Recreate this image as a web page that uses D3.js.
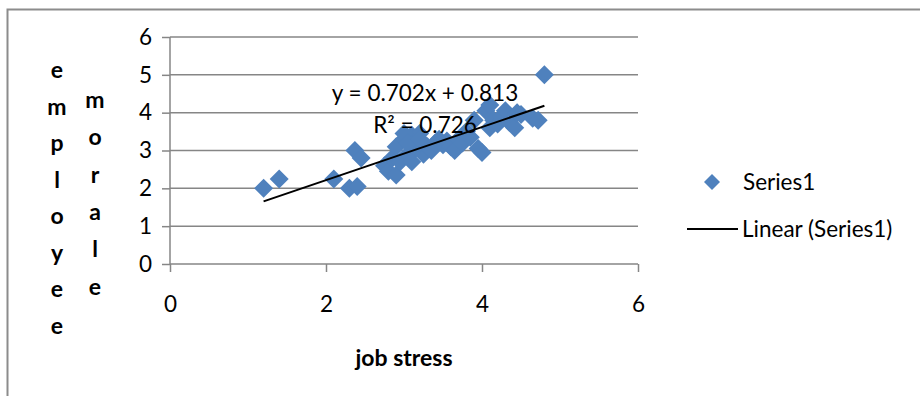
<!DOCTYPE html>
<html>
<head>
<meta charset="utf-8">
<script src="https://cdn.jsdelivr.net/npm/d3@7"></script>
<style>
  body { margin: 0; background: #fff; }
  svg text { font-family: Lato, "Open Sans", sans-serif; fill: #000; }
  .title { font-weight: bold; font-size: 23px; }
</style>
</head>
<body>
<div id="chart"></div>
<script>
// job stress vs employee morale
const jobStress = [1.2, 1.4, 2.1, 2.3, 2.4, 2.37, 2.45,
  2.75, 2.8, 2.9, 2.85, 2.95, 2.9, 3.0, 3.05, 3.1, 3.1, 3.15, 3.2, 3.25, 3.2, 3.3, 3.35,
  3.4, 3.45, 3.5, 3.55, 3.6, 3.65, 3.7, 3.75, 3.8, 3.85, 3.9, 3.95, 4.0, 4.05, 4.1, 4.1,
  4.15, 4.2, 4.25, 4.3, 4.35, 4.42, 4.45, 4.5, 4.65, 4.72, 4.8, 3.0, 3.05, 3.2];
const morale = [2.0, 2.25, 2.25, 2.0, 2.05, 3.0, 2.8,
  2.6, 2.45, 2.35, 2.8, 2.7, 3.1, 3.3, 2.9, 2.7, 3.4, 3.05, 3.45, 2.9, 3.2, 3.1, 3.0,
  3.2, 3.3, 3.15, 3.25, 3.1, 3.0, 3.3, 3.2, 3.5, 3.35, 3.8, 3.05, 2.95, 4.05, 4.2, 3.6,
  3.8, 3.7, 3.9, 4.05, 3.75, 3.6, 4.0, 3.95, 3.85, 3.8, 5.0, 3.45, 3.2, 3.3];
const xTicks = [0, 2, 4, 6];
const yTicks = [0, 1, 2, 3, 4, 5, 6];
const slope = 0.702, intercept = 0.813;
const eqLabel = "y = 0.702x + 0.813";
const r2Label = "R² = 0.726";
const seriesName = "Series1";
const trendName = "Linear (Series1)";

function draw() {
  let width = 920, height = 396;
  let left = 170, right = 638, top = 37, bottom = 264;
  let blue = "#4F81BD", grid = "#868686";
  let fs = 22.5;

  let svg = d3.select("#chart").append("svg")
    .attr("width", width)
    .attr("height", height);

  // outer border (chart area frame)
  svg.append("rect")
    .attr("x", 7.5).attr("y", 9.5)
    .attr("width", 940).attr("height", 420)
    .attr("fill", "none").attr("stroke", "#8c8c8c").attr("stroke-width", 2);

  let x = d3.scaleLinear().domain([0, 6]).range([left, right]);
  let y = d3.scaleLinear().domain([0, 6]).range([bottom, top]);

  // gridlines
  svg.append("g").selectAll("line")
    .data(yTicks.filter(d => d > 0))
    .enter().append("line")
    .attr("x1", left).attr("x2", right)
    .attr("y1", d => y(d)).attr("y2", d => y(d))
    .attr("stroke", grid).attr("stroke-width", 1.5);

  let yAxis = d3.axisLeft(y).tickValues(yTicks).tickSize(8).tickPadding(10).tickFormat(d3.format("d"));
  let xAxis = d3.axisBottom(x).tickValues(xTicks).tickSize(8).tickPadding(24).tickFormat(d3.format("d"));

  let gy = svg.append("g").attr("class", "axis")
    .attr("transform", `translate(${left},0)`).call(yAxis);
  let gx = svg.append("g").attr("class", "axis")
    .attr("transform", `translate(0,${bottom})`).call(xAxis);
  for (let g of [gx, gy]) {
    g.select(".domain").attr("stroke", grid).attr("stroke-width", 1.5);
    g.selectAll(".tick line").attr("stroke", grid).attr("stroke-width", 1.5);
    g.selectAll("text").attr("font-family", "Lato, 'Open Sans', sans-serif").attr("font-size", fs).attr("fill", "#000");
  }
  gx.select(".domain").attr("d", `M${left},0H${right}`);
  gy.select(".domain").attr("d", `M0,${bottom}V${top}`);

  // points
  let diamond = "M0,-9.5L9.5,0L0,9.5L-9.5,0Z";
  svg.append("g").selectAll("path")
    .data(jobStress.map((d, i) => [d, morale[i]]))
    .enter().append("path")
    .attr("d", diamond)
    .attr("transform", d => `translate(${x(d[0])},${y(d[1])})`)
    .attr("fill", blue);

  // trendline
  let x0 = d3.min(jobStress), x1 = d3.max(jobStress);
  svg.append("line")
    .attr("x1", x(x0)).attr("y1", y(slope * x0 + intercept))
    .attr("x2", x(x1)).attr("y2", y(slope * x1 + intercept))
    .attr("stroke", "#000").attr("stroke-width", 2);

  svg.append("text").attr("x", 425).attr("y", 101).attr("text-anchor", "middle")
    .attr("font-size", fs).text(eqLabel);
  svg.append("text").attr("x", 425).attr("y", 133).attr("text-anchor", "middle")
    .attr("font-size", fs).text(r2Label);

  // axis titles
  svg.append("text").attr("class", "title")
    .attr("x", 404).attr("y", 366).attr("text-anchor", "middle").text("job stress");

  let word1 = "employee".split(""), word2 = "morale".split("");
  svg.append("g").selectAll("text").data(word1).enter().append("text")
    .attr("class", "title").attr("text-anchor", "middle")
    .attr("x", 57).attr("y", (d, i) => 78 + i * 36.5).text(d => d);
  svg.append("g").selectAll("text").data(word2).enter().append("text")
    .attr("class", "title").attr("text-anchor", "middle")
    .attr("x", 95).attr("y", (d, i) => 108 + i * 37.3).text(d => d);

  // legend
  svg.append("path").attr("d", "M0,-8L8,0L0,8L-8,0Z")
    .attr("transform", "translate(712,182)").attr("fill", blue);
  svg.append("text").attr("x", 743).attr("y", 190).attr("font-size", fs).text(seriesName);
  svg.append("line").attr("x1", 687).attr("x2", 738).attr("y1", 229).attr("y2", 229)
    .attr("stroke", "#000").attr("stroke-width", 2);
  svg.append("text").attr("x", 742).attr("y", 237).attr("font-size", fs).text(trendName);
}

draw();
</script>
</body>
</html>
